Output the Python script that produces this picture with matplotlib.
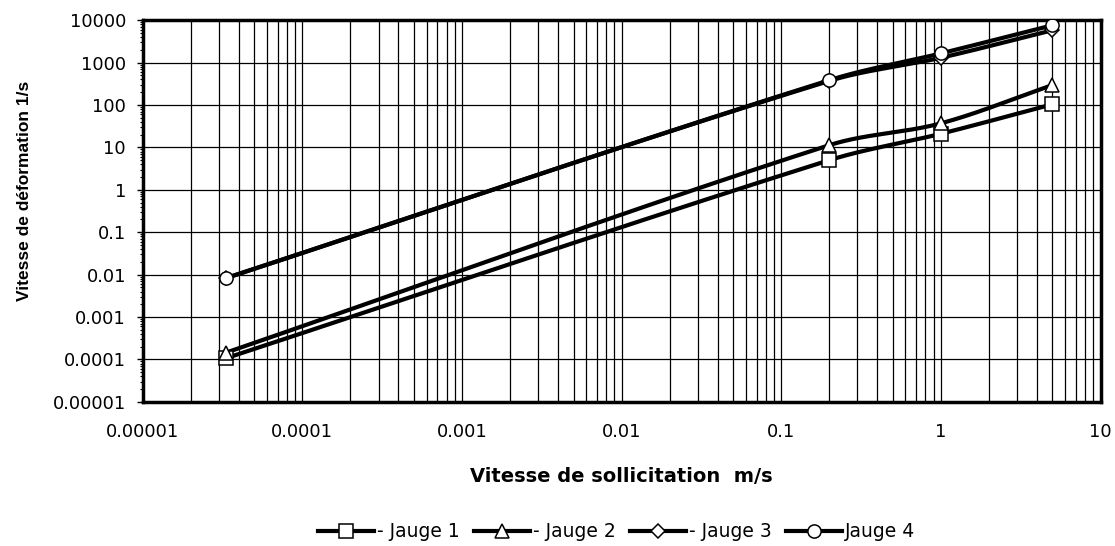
import numpy as np
import matplotlib
matplotlib.use('Agg')
from matplotlib import pyplot as plt
from matplotlib.ticker import FixedLocator, FixedFormatter, LogLocator, NullFormatter

plt.rcParams['font.family'] = ['DejaVu Sans']

# données
vitesse = [3.33e-5, 0.2, 1, 5]
jauge1 = [1.07e-4, 5.0, 21, 104]
jauge2 = [1.45e-4, 11.3, 37, 295]
jauge3 = [0.0083, 370, 1300, 5800]
jauge4 = [0.0083, 385, 1650, 7600]

series = [('- Jauge 1', jauge1, 's'), ('- Jauge 2', jauge2, '^'),
          ('- Jauge 3', jauge3, 'D'), ('Jauge 4', jauge4, 'o')]

x_ticks = [1e-5, 1e-4, 1e-3, 1e-2, 1e-1, 1, 10]
x_labels = ['0.00001', '0.0001', '0.001', '0.01', '0.1', '1', '10']
y_ticks = [1e-5, 1e-4, 1e-3, 1e-2, 1e-1, 1, 10, 100, 1000, 10000]
y_labels = ['0.00001', '0.0001', '0.001', '0.01', '0.1', '1', '10', '100', '1000', '10000']


def smooth(xs, ys, n=80):
    """Courbe lissée (Bezier) dans l'espace log-log, à la manière d'Excel"""
    lx = np.log10(xs) / 6.0 * 958
    ly = np.log10(ys) / 9.0 * 382
    pts = np.column_stack([lx, ly])
    m = len(pts)
    tang = []
    for i in range(m):
        a = pts[max(i - 1, 0)]
        b = pts[min(i + 1, m - 1)]
        d = b - a
        tang.append(d / np.linalg.norm(d))
    out = []
    t = np.linspace(0, 1, n)[:, None]
    for i in range(m - 1):
        p1, p2 = pts[i], pts[i + 1]
        seg = np.linalg.norm(p2 - p1)
        c1 = p1 + tang[i] * seg / 3.0
        c2 = p2 - tang[i + 1] * seg / 3.0
        b = ((1 - t) ** 3) * p1 + 3 * ((1 - t) ** 2) * t * c1 + 3 * (1 - t) * t ** 2 * c2 + t ** 3 * p2
        out.append(b)
    curve = np.vstack(out)
    return 10 ** (curve[:, 0] / 958 * 6.0), 10 ** (curve[:, 1] / 382 * 9.0)


def marker_size(mk):
    return 7.5 if mk == 'D' else 9.5


fig = plt.figure(figsize=(11.15, 5.46), dpi=100)
ax = fig.add_axes([0.128, 0.264, 0.859, 0.699])
ax.set_xscale('log')
ax.set_yscale('log')
ax.set_xlim(1e-5, 10)
ax.set_ylim(1e-5, 1e4)

for label, vals, mk in series:
    sx, sy = smooth(vitesse, vals)
    ax.plot(sx, sy, color='black', lw=3.0, zorder=3, solid_capstyle='round')
    ax.plot(vitesse, vals, linestyle='none', marker=mk, markersize=marker_size(mk),
            markerfacecolor='white', markeredgecolor='black', markeredgewidth=1.1, zorder=4)

# légende
handles = []
for label, vals, mk in series:
    h, = ax.plot([], [], color='black', lw=3.0, marker=mk, markersize=marker_size(mk),
                 markerfacecolor='white', markeredgecolor='black', markeredgewidth=1.1)
    handles.append(h)
fig.legend(handles, [s[0] for s in series], loc='center', bbox_to_anchor=(0.553, 0.026),
           ncol=4, frameon=False, fontsize=13.5, handlelength=3.0, handletextpad=0.15,
           columnspacing=0.75, borderaxespad=0, borderpad=0)

ax.xaxis.set_major_locator(FixedLocator(x_ticks))
ax.xaxis.set_major_formatter(FixedFormatter(x_labels))
ax.xaxis.set_minor_locator(LogLocator(base=10, subs=np.arange(2, 10), numticks=20))
ax.xaxis.set_minor_formatter(NullFormatter())
ax.yaxis.set_major_locator(FixedLocator(y_ticks))
ax.yaxis.set_major_formatter(FixedFormatter(y_labels))
ax.yaxis.set_minor_locator(LogLocator(base=10, subs=np.arange(2, 10), numticks=20))
ax.yaxis.set_minor_formatter(NullFormatter())

ax.grid(True, which='major', color='black', lw=0.9)
ax.grid(True, which='minor', axis='x', color='black', lw=0.9)
ax.set_axisbelow(True)

ax.tick_params(axis='x', which='both', length=0, labelsize=12.8, pad=15)
ax.tick_params(axis='y', which='major', length=4, width=1, labelsize=12.8, pad=8)
ax.tick_params(axis='y', which='minor', length=2.5, width=0.8)

for sp in ax.spines.values():
    sp.set_linewidth(2.5)
    sp.set_color('black')

ax.set_xlabel('Vitesse de sollicitation  m/s', fontsize=14, fontweight='bold')
ax.xaxis.set_label_coords(0.5, -0.17)
ax.xaxis.label.set_verticalalignment('top')
ax.set_ylabel('Vitesse de déformation 1/s', fontsize=12.5, fontweight='bold',
              family=['Liberation Sans', 'DejaVu Sans'])
ax.yaxis.set_label_coords(-0.116, 0.552)

plt.savefig('out.png', dpi=100)
